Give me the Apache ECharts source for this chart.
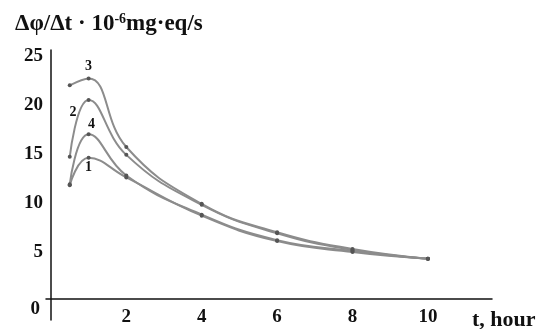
<!DOCTYPE html>
<html>
<head>
<meta charset="utf-8">
<script src="https://cdn.jsdelivr.net/npm/echarts@6/dist/echarts.min.js"></script>
<style>
  html, body { margin: 0; padding: 0; background: #fff; }
  #chart { width: 542px; height: 329px; }
</style>
</head>
<body>
<div id="chart"></div>
<script>
// hours of measurement
let hours = [0.5, 1, 2, 4, 6, 8, 10];
// rate values, 10^-6 mg·eq/s
let curve1 = [11.8, 14.6, 12.6, 8.7, 6.1, 5.0, 4.3];
let curve2 = [14.7, 20.5, 14.9, 9.8, 6.9, 5.2, 4.3];
let curve3 = [22.0, 22.7, 15.7, 9.9, 7.0, 5.3, 4.3];
let curve4 = [11.9, 17.0, 12.8, 8.8, 6.2, 5.1, 4.3];
let curveNames = ['1', '2', '3', '4'];
let xTicks = [2, 4, 6, 8, 10];
let yTicks = [0, 5, 10, 15, 20, 25];

let font = 'Liberation Serif';

// where each curve number sits around its peak point
let peakLabel = {
    '1': { position: 'bottom', distance: 1 },
    '2': { position: 'left', distance: 10, offset: [0, 12] },
    '3': { position: 'top', distance: 3 },
    '4': { position: 'top', distance: 1, offset: [3, 0] }
};

let makeSeries = (name, values) => {
    let data = hours.map((h, i) => {
        let item = { value: [h, values[i]] };
        if (i === 1) {
            item.label = {
                show: true,
                formatter: name,
                fontFamily: font,
                fontWeight: 'bold',
                fontSize: 14,
                color: '#111',
                ...peakLabel[name]
            };
        }
        return item;
    });
    return {
        name: name,
        type: 'line',
        smooth: 0.45,
        data: data,
        symbol: 'circle',
        symbolSize: 4,
        itemStyle: { color: '#555' },
        lineStyle: { color: '#8c8c8c', width: 2 },
        z: 3
    };
};

let chart = echarts.init(document.getElementById('chart'));
chart.setOption({
    animation: false,
    backgroundColor: '#fff',
    title: [
        {
            text: '{a|Δφ/Δt · 10}{s|-6}{a|mg·eq/s}',
            left: 10,
            top: 7,
            textStyle: {
                rich: {
                    a: { fontFamily: font, fontWeight: 'bold', fontSize: 23, color: '#111' },
                    s: { fontFamily: font, fontWeight: 'bold', fontSize: 14, color: '#111', verticalAlign: 'top', padding: [0, 0, 10, 0] }
                }
            }
        },
        {
            text: 't, hour',
            left: 467,
            top: 304,
            textStyle: { fontFamily: font, fontWeight: 'bold', fontSize: 22, color: '#111' }
        }
    ],
    grid: { left: 46, right: 50, top: 50, bottom: 9, outerBoundsMode: 'none', containLabel: false },
    xAxis: {
        type: 'value',
        min: -0.13,
        max: 11.7,
        offset: -21,
        axisLine: { show: true, onZero: false, lineStyle: { color: '#111', width: 1.5 } },
        axisTick: { show: false },
        splitLine: { show: false },
        axisLabel: {
            show: true,
            customValues: xTicks,
            margin: 9,
            fontFamily: font,
            fontWeight: 'bold',
            fontSize: 19,
            color: '#111'
        }
    },
    yAxis: {
        type: 'value',
        min: -1.95,
        max: 25.6,
        axisLine: { show: true, onZero: true, lineStyle: { color: '#111', width: 1.5 } },
        axisTick: { show: false },
        splitLine: { show: false },
        axisLabel: {
            customValues: yTicks,
            margin: 3,
            fontFamily: font,
            fontWeight: 'bold',
            fontSize: 19,
            color: '#111',
            formatter: v => (v === 0 ? '{z|0}' : String(v)),
            rich: {
                z: { fontFamily: font, fontWeight: 'bold', fontSize: 19, color: '#111', padding: [16, 3, 0, 0] }
            }
        }
    },
    series: [
        makeSeries(curveNames[0], curve1),
        makeSeries(curveNames[1], curve2),
        makeSeries(curveNames[2], curve3),
        makeSeries(curveNames[3], curve4)
    ]
});
</script>
</body>
</html>
